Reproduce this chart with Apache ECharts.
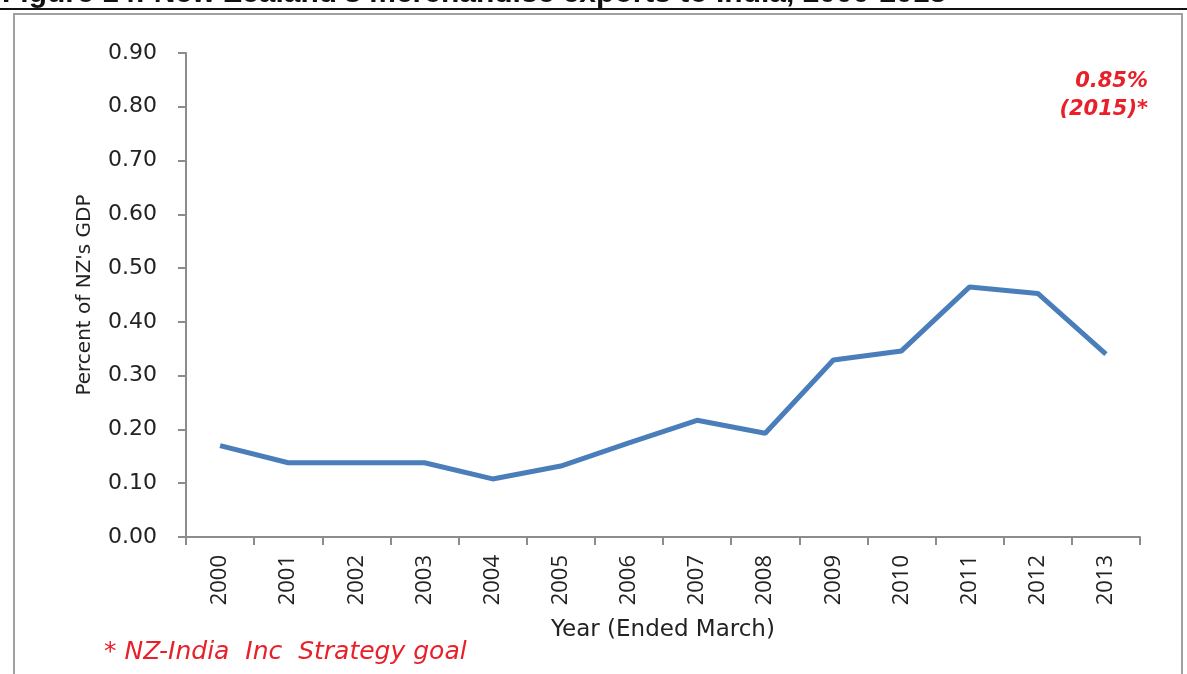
<!DOCTYPE html>
<html>
<head>
<meta charset="utf-8">
<script src="https://cdn.jsdelivr.net/npm/echarts@6/dist/echarts.min.js"></script>
<style>
  html, body { margin: 0; padding: 0; background: #fff; }
  #main { width: 1187px; height: 674px; }
</style>
</head>
<body>
<div id="main"></div>
<script>
// 年份（横轴类别）
var years = ['2000', '2001', '2002', '2003', '2004', '2005', '2006',
             '2007', '2008', '2009', '2010', '2011', '2012', '2013'];
// 出口占GDP百分比
var exportShare = [0.17, 0.138, 0.138, 0.138, 0.108, 0.132, 0.175,
                   0.217, 0.193, 0.329, 0.346, 0.465, 0.453, 0.340];
// 纵轴刻度
var yTicks = { min: 0, max: 0.9, interval: 0.1 };

var titleText = "Figure 14: New Zealand's merchandise exports to India, 2000-2013";
var goalValue = '0.85%';
var goalYear = '(2015)*';
var noteText = '* NZ-India  Inc  Strategy goal';

var font = 'DejaVu Sans';
var red = '#e8202a';

var myChart = echarts.init(document.getElementById('main'));

var option = {
    animation: false,
    backgroundColor: '#fff',
    grid: {
        left: 186,
        top: 53,
        right: 47,
        bottom: 137
    },
    xAxis: {
        type: 'category',
        data: years,
        boundaryGap: true,
        name: 'Year (Ended March)',
        nameLocation: 'middle',
        nameGap: 82,
        nameTextStyle: { fontFamily: font, fontSize: 23, color: '#222' },
        axisLine: { lineStyle: { color: '#8c8c8c', width: 2 } },
        axisTick: { show: true, length: 8, lineStyle: { color: '#8c8c8c', width: 2 } },
        axisLabel: {
            rotate: 90,
            margin: 18,
            fontFamily: 'Open Sans',
            fontSize: 22,
            color: '#222'
        }
    },
    yAxis: {
        type: 'value',
        min: yTicks.min,
        max: yTicks.max,
        interval: yTicks.interval,
        name: "Percent of NZ's GDP",
        nameLocation: 'middle',
        nameGap: 91,
        nameTextStyle: { fontFamily: font, fontSize: 20, color: '#222' },
        axisLine: { show: true, lineStyle: { color: '#8c8c8c', width: 2 } },
        axisTick: { show: true, length: 8, lineStyle: { color: '#8c8c8c', width: 2 } },
        splitLine: { show: false },
        axisLabel: {
            margin: 29,
            fontFamily: font,
            fontSize: 22,
            color: '#222',
            formatter: function (v) { return v.toFixed(2); }
        }
    },
    series: [{
        type: 'line',
        data: exportShare,
        symbol: 'none',
        lineStyle: { color: '#4a7ebb', width: 5 }
    }],
    graphic: [
        {
            type: 'text',
            left: 2,
            top: -21,
            style: {
                text: titleText,
                font: 'bold 30px "Liberation Sans"',
                fill: '#111'
            }
        },
        {
            type: 'rect',
            shape: { x: 0, y: 8, width: 1187, height: 2 },
            style: { fill: '#111' }
        },
        {
            type: 'rect',
            shape: { x: 14, y: 14, width: 1168, height: 700 },
            style: { fill: 'none', stroke: '#a0a0a0', lineWidth: 2 }
        },
        {
            type: 'text',
            right: 39,
            top: 71,
            style: {
                text: goalValue,
                font: 'italic bold 21px "DejaVu Sans"',
                fill: red
            }
        },
        {
            type: 'text',
            right: 39,
            top: 99,
            style: {
                text: goalYear,
                font: 'italic bold 21px "DejaVu Sans"',
                fill: red
            }
        },
        {
            type: 'text',
            left: 104,
            top: 640,
            style: {
                text: noteText,
                font: 'italic 25px "DejaVu Sans"',
                fill: red
            }
        }
    ]
};

myChart.setOption(option);
</script>
</body>
</html>
